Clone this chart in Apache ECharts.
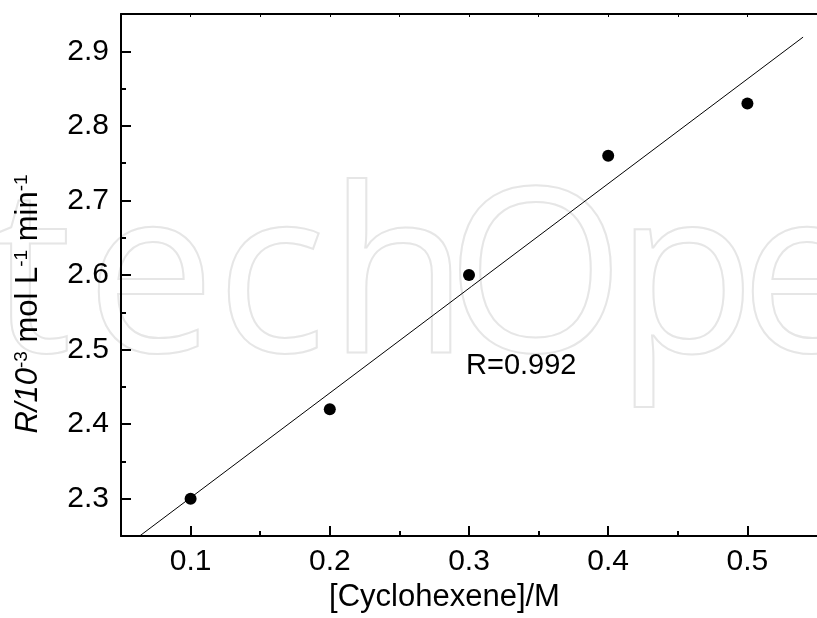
<!DOCTYPE html>
<html><head><meta charset="utf-8">
<script src="https://cdn.jsdelivr.net/npm/echarts@6/dist/echarts.min.js"></script>
<style>html,body{margin:0;padding:0;background:#fff}#c{width:817px;height:618px}</style>
</head><body><div id="c"></div>
<script>
// ---- data ----
const concentration = [0.1, 0.2, 0.3, 0.4, 0.5];
const rate = [2.30, 2.42, 2.60, 2.76, 2.83];
const fitX = [0.0634, 0.54];
const fitY = [2.25, 2.919];
const xMajorTicks = [0.1, 0.2, 0.3, 0.4, 0.5];
const xMinorTicks = [0.15, 0.25, 0.35, 0.45];
const xTopTicks = [0.1, 0.15, 0.2, 0.25, 0.3, 0.35, 0.4, 0.45, 0.5];
const yMajorTicks = [2.3, 2.4, 2.5, 2.6, 2.7, 2.8, 2.9];
const yMinorTicks = [2.35, 2.45, 2.55, 2.65, 2.75, 2.85];
const xTitle = '[Cyclohexene]/M';
const annotation = 'R=0.992';
const watermark = ['t', 'e', 'c', 'h', 'O', 'p', 'e'];
const watermarkX = [-10, 86, 216, 328, 446, 615, 740];

const FONT = "'Liberation Sans', Arial, sans-serif";
const X_MIN = 0.05, X_MAX = 0.55, Y_MIN = 2.25, Y_MAX = 2.95;
const black = '#000';

const chart = echarts.init(document.getElementById('c'), null, {renderer: 'canvas'});

const wmGraphics = watermark.map((ch, i) => ({
  type: 'text', x: watermarkX[i], y: 286, z: -10, silent: true,
  style: {text: ch, fontFamily: "'Open Sans', sans-serif", fontSize: 230,
    fill: 'rgba(0,0,0,0)', stroke: '#e6e6e6', lineWidth: 2,
    align: 'left', verticalAlign: 'middle'}
}));

const baseX = {type: 'value', min: X_MIN, max: X_MAX, splitLine: {show: false}};
const baseY = {type: 'value', min: Y_MIN, max: Y_MAX, splitLine: {show: false}};

chart.setOption({
  animation: false,
  backgroundColor: '#fff',
  grid: {left: 121, top: 14, right: -11, bottom: 76, containLabel: false},
  xAxis: [
    Object.assign({}, baseX, {
      position: 'bottom',
      axisLine: {onZero: false, lineStyle: {color: black, width: 2}},
      axisTick: {inside: true, length: 10, customValues: xMajorTicks, lineStyle: {color: black, width: 2}},
      axisLabel: {customValues: xMajorTicks, formatter: v => v.toFixed(1), fontSize: 30, color: black, fontFamily: FONT, margin: 11},
      name: xTitle, nameLocation: 'middle', nameGap: 46,
      nameTextStyle: {fontSize: 31, color: black, fontFamily: FONT, padding: [0, 49, 0, 0]}
    }),
    Object.assign({}, baseX, {
      position: 'bottom',
      axisLine: {show: false, onZero: false},
      axisTick: {inside: true, length: 5, customValues: xMinorTicks, lineStyle: {color: black, width: 2}},
      axisLabel: {show: false}
    }),
    Object.assign({}, baseX, {
      position: 'top',
      axisLine: {onZero: false, lineStyle: {color: black, width: 2}},
      axisTick: {inside: true, length: 3, customValues: xTopTicks, lineStyle: {color: black, width: 1}},
      axisLabel: {show: false}
    })
  ],
  yAxis: [
    Object.assign({}, baseY, {
      position: 'left',
      axisLine: {onZero: false, lineStyle: {color: black, width: 2}},
      axisTick: {inside: true, length: 10, customValues: yMajorTicks, lineStyle: {color: black, width: 2}},
      axisLabel: {customValues: yMajorTicks, formatter: v => v.toFixed(1), fontSize: 30, color: black, fontFamily: FONT, margin: 12}
    }),
    Object.assign({}, baseY, {
      position: 'left',
      axisLine: {show: false, onZero: false},
      axisTick: {inside: true, length: 5, customValues: yMinorTicks, lineStyle: {color: black, width: 2}},
      axisLabel: {show: false}
    })
  ],
  graphic: wmGraphics.concat([
    {
      type: 'text', x: 28, y: 304, rotation: Math.PI / 2,
      style: {
        text: '{i|R/10}{s|-3}{n| mol L}{s|-1}{n| min}{s|-1}',
        align: 'center', verticalAlign: 'middle',
        rich: {
          i: {fontSize: 31, fontStyle: 'italic', fontFamily: FONT, fill: black, lineHeight: 31, verticalAlign: 'bottom'},
          n: {fontSize: 31, fontFamily: FONT, fill: black, lineHeight: 31, verticalAlign: 'bottom'},
          s: {fontSize: 19, fontFamily: FONT, fill: black, lineHeight: 28, verticalAlign: 'top'}
        }
      }
    },
    {
      type: 'text', x: 466, y: 366,
      style: {text: annotation, fontSize: 29, fontFamily: FONT, fill: black, align: 'left', verticalAlign: 'middle'}
    }
  ]),
  series: [
    {
      type: 'line', xAxisIndex: 0, yAxisIndex: 0,
      data: fitX.map((x, i) => [x, fitY[i]]),
      showSymbol: false, symbol: 'none',
      lineStyle: {color: black, width: 1}, z: 2, silent: true
    },
    {
      type: 'scatter', xAxisIndex: 0, yAxisIndex: 0,
      data: concentration.map((x, i) => [x, rate[i]]),
      symbol: 'circle', symbolSize: 12,
      itemStyle: {color: black, opacity: 1}, z: 3, silent: true
    }
  ]
});
</script>
</body></html>
